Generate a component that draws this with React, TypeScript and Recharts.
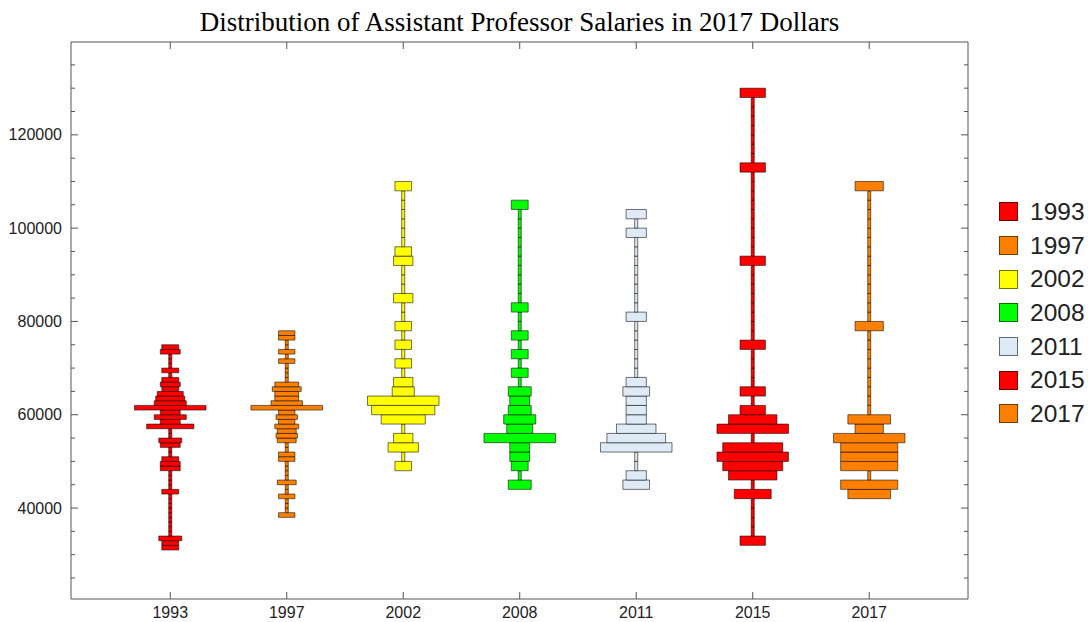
import { ComposedChart, XAxis, YAxis, ReferenceArea } from "recharts";

const years = ["1993", "1997", "2002", "2008", "2011", "2015", "2017"];
const colors = ["#ff0000", "#ff8000", "#ffff00", "#00ff00", "#dfeaf7", "#ff0000", "#ff8000"];

// lowest bin of each histogram and the bin height (2017 dollars)
const binStarts = [31000, 38000, 48000, 44000, 44000, 32000, 42000];
const binSizes = [1000, 1000, 2000, 2000, 2000, 2000, 2000];

// counts per bin, from the lowest bin upwards
const counts1993 = [1, 1, 3, 0, 0, 0, 0, 0, 0, 0, 0, 0, 1, 0, 0, 0, 0, 2, 2, 1, 0, 0, 2, 3, 0, 0, 11, 2, 6, 2, 19, 6, 5, 4, 1, 2, 1, 0, 1, 0, 0, 0, 2, 1];
const counts1997 = [1, 0, 0, 0, 1, 0, 0, 2, 0, 0, 0, 0, 1, 1, 0, 0, 2, 3, 2, 4, 1, 3, 1, 23, 7, 4, 4, 6, 4, 0, 0, 0, 0, 1, 0, 1, 0, 0, 1, 1];
const counts2002 = [1, 0, 6, 2, 0, 11, 18, 21, 3, 2, 0, 1, 0, 1, 0, 1, 0, 0, 2, 0, 0, 0, 2, 1, 0, 0, 0, 0, 0, 0, 1];
const counts2008 = [3, 0, 1, 2, 2, 19, 4, 6, 3, 2, 3, 0, 1, 0, 1, 0, 1, 0, 0, 1, 0, 0, 0, 0, 0, 0, 0, 0, 0, 0, 1];
const counts2011 = [2, 1, 0, 0, 9, 7, 4, 1, 1, 1, 2, 1, 0, 0, 0, 0, 0, 0, 1, 0, 0, 0, 0, 0, 0, 0, 0, 1, 0, 1];
const counts2015 = [1, 0, 0, 0, 0, 2, 0, 3, 4, 5, 4, 0, 5, 3, 1, 0, 1, 0, 0, 0, 0, 1, 0, 0, 0, 0, 0, 0, 0, 0, 1, 0, 0, 0, 0, 0, 0, 0, 0, 0, 1, 0, 0, 0, 0, 0, 0, 0, 1];
const counts2017 = [2, 3, 0, 3, 3, 3, 4, 1, 2, 0, 0, 0, 0, 0, 0, 0, 0, 0, 1, 0, 0, 0, 0, 0, 0, 0, 0, 0, 0, 0, 0, 0, 0, 1];
const allCounts = [counts1993, counts1997, counts2002, counts2008, counts2011, counts2015, counts2017];

const yTicks = [25000, 30000, 35000, 40000, 45000, 50000, 55000, 60000, 65000, 70000, 75000, 80000, 85000, 90000, 95000, 100000, 105000, 110000, 115000, 120000, 125000, 130000, 135000];
const yLabels = [40000, 60000, 80000, 100000, 120000];
const xTicks = [1, 2, 3, 4, 5, 6, 7];

const X_DOMAIN = [0.148, 7.848];
const Y_DOMAIN = [20500, 139900];

// box widths in category units
const MAX_W = 0.614;
const MIN_W = 0.119;
const STEM_W = 0.026;

const FRAME = "#555";
const SANS = '"Liberation Sans", Arial, sans-serif';

function LeftTick(props: any) {
  const { x, y, payload } = props;
  const major = yLabels.includes(payload.value);
  const ax = x + 9;
  return (
    <g>
      <line x1={ax} x2={ax + (major ? 7 : 4)} y1={y} y2={y} stroke={FRAME} />
      {major && (
        <text x={x} y={y} textAnchor="end" dominantBaseline="central" fontSize={16} fontFamily={SANS} fill="#222">
          {payload.value}
        </text>
      )}
    </g>
  );
}

function RightTick(props: any) {
  const { x, y, payload } = props;
  const major = yLabels.includes(payload.value);
  return <line x1={x} x2={x - (major ? 7 : 4)} y1={y} y2={y} stroke={FRAME} />;
}

function BottomTick(props: any) {
  const { x, y, payload } = props;
  const ay = y - 8;
  return (
    <g>
      <line x1={x} x2={x} y1={ay} y2={ay - 7} stroke={FRAME} />
      <text x={x} y={y} dy="0.71em" textAnchor="middle" fontSize={16} fontFamily={SANS} fill="#222">
        {years[payload.value - 1]}
      </text>
    </g>
  );
}

function TopTick(props: any) {
  const { x, y } = props;
  return <line x1={x} x2={x} y1={y} y2={y + 7} stroke={FRAME} />;
}

function boxes() {
  const out: any[] = [];
  allCounts.forEach((counts, i) => {
    const maxC = Math.max(...counts);
    counts.forEach((c, j) => {
      const lo = binStarts[i] + j * binSizes[i];
      const w = c === 0 ? STEM_W : MIN_W + ((MAX_W - MIN_W) * c) / maxC;
      out.push(
        <ReferenceArea
          key={`${i}-${j}`}
          x1={i + 1 - w / 2}
          x2={i + 1 + w / 2}
          y1={lo}
          y2={lo + binSizes[i]}
          fill={colors[i]}
          fillOpacity={1}
          stroke="#000"
          strokeOpacity={0.55}
          strokeWidth={1}
          ifOverflow="visible"
        />
      );
    });
  });
  return out;
}

const positions = xTicks.map((p) => ({ pos: p }));

export default function App() {
  return (
    <div style={{ position: "absolute", left: 0, top: 0, width: 1088, height: 622, background: "#fff" }}>
      <div
        style={{
          position: "absolute",
          left: 71,
          width: 897,
          top: 7,
          textAlign: "center",
          fontFamily: '"Liberation Serif", "Times New Roman", serif',
          fontSize: 27,
          lineHeight: "30px",
          color: "#000",
        }}
      >
        Distribution of Assistant Professor Salaries in 2017 Dollars
      </div>
      <div style={{ position: "absolute", left: 0, top: 0 }}>
        <ComposedChart width={1088} height={622} data={positions} margin={{ top: 41, right: 119, bottom: 0, left: 0 }}>
          <XAxis
            dataKey="pos"
            type="number"
            domain={X_DOMAIN}
            allowDataOverflow
            ticks={xTicks}
            interval={0}
            height={23}
            tickSize={0}
            tickMargin={8}
            tickLine={false}
            axisLine={{ stroke: FRAME }}
            tick={<BottomTick />}
          />
          <XAxis
            xAxisId="top"
            orientation="top"
            dataKey="pos"
            type="number"
            domain={X_DOMAIN}
            allowDataOverflow
            ticks={xTicks}
            interval={0}
            height={1}
            tickSize={0}
            tickMargin={0}
            tickLine={false}
            axisLine={{ stroke: FRAME }}
            tick={<TopTick />}
          />
          <YAxis
            type="number"
            domain={Y_DOMAIN}
            allowDataOverflow
            ticks={yTicks}
            interval={0}
            width={71}
            tickSize={0}
            tickMargin={9}
            tickLine={false}
            axisLine={{ stroke: FRAME }}
            tick={<LeftTick />}
          />
          <YAxis
            yAxisId="right"
            orientation="right"
            type="number"
            domain={Y_DOMAIN}
            allowDataOverflow
            ticks={yTicks}
            interval={0}
            width={1}
            tickSize={0}
            tickMargin={0}
            tickLine={false}
            axisLine={{ stroke: FRAME }}
            tick={<RightTick />}
          />
          {boxes()}
        </ComposedChart>
      </div>
      <div style={{ position: "absolute", left: 999, top: 195 }}>
        {years.map((yr, i) => (
          <div key={i} style={{ display: "flex", alignItems: "center", height: 33.7 }}>
            <div
              style={{
                width: 17,
                height: 17,
                background: colors[i],
                border: "1px solid rgba(0,0,0,0.55)",
              }}
            />
            <span style={{ marginLeft: 12, fontFamily: SANS, fontSize: 24.5, color: "#222" }}>{yr}</span>
          </div>
        ))}
      </div>
    </div>
  );
}
